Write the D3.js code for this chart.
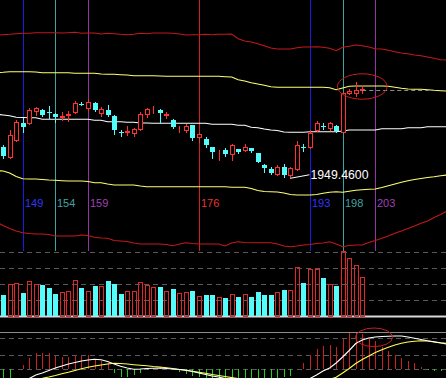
<!DOCTYPE html>
<html>
<head>
<meta charset="utf-8">
<script src="https://cdn.jsdelivr.net/npm/d3@7/dist/d3.min.js"></script>
<style>
  body { margin: 0; background: #000; }
  svg { display: block; }
</style>
</head>
<body>
<script>
// ---- data ----
var firstBar = 146;   // index of first candle / volume bar
var opens = [2012.6, 1992.6, 2026, 2060.6, 2059.4, 2084, 2086, 2082, 2078, 2071.6,
  2076.4, 2081.4, 2098.8, 2090.6, 2099.4, 2079.4, 2086, 2074, 2042, 2041.8,
  2039.4, 2048, 2078, 2085.2, 2086, 2076.6, 2066, 2047.2, 2046, 2056,
  2031.4, 2028, 2011.4, 2003.2, 2006, 1998, 2008, 2006, 2009.4, 1999.4,
  1976, 1967.4, 1958, 1971, 1956, 1967.4, 2012, 2012.6, 2046, 2053.4,
  2049.4, 2054.6, 2042.6, 2119.4, 2120.6, 2126.6];
var highs = [2016, 2046, 2066, 2070, 2090, 2092.6, 2088, 2094, 2080, 2082.6,
  2084.6, 2104.6, 2102.6, 2107.4, 2102, 2092.6, 2096, 2075, 2046, 2054,
  2050, 2081.4, 2089.4, 2094, 2087, 2082.6, 2068, 2054, 2057.4, 2057,
  2040.6, 2032.6, 2013, 2006, 2009.4, 2018, 2009, 2018, 2010, 2000,
  1977, 1971.4, 1976, 1978, 1972, 2025, 2018, 2046, 2064, 2059.4,
  2062.6, 2055.4, 2121, 2129, 2142.6, 2136];
var lows = [1990.6, 1990, 2024, 2042, 2058, 2076, 2074, 2070, 2062.6, 2066,
  2064.6, 2079.4, 2095.4, 2086, 2084, 2074, 2074, 2038, 2034.6, 2036,
  2034.6, 2046, 2071.4, 2079.4, 2059.4, 2069.4, 2050, 2042.6, 2042.6, 2026,
  2022.6, 2012.6, 1990.6, 1986, 1994, 1986, 1999.4, 2004.6, 2002.6, 1982,
  1962.6, 1958, 1956, 1952.6, 1949.46, 1966, 2004.6, 2009.4, 2044, 2048,
  2046, 2043, 2042, 2118, 2114, 2120.6];
var closes = [1994, 2036, 2062.6, 2051.4, 2086, 2090, 2076, 2079.4, 2072.6, 2073.2,
  2078, 2099.4, 2097.2, 2102.6, 2086, 2087.4, 2076, 2046, 2040.4, 2043.4,
  2048, 2078, 2088, 2086.8, 2079.4, 2078.2, 2051.4, 2048.8, 2054.6, 2029.4,
  2037.4, 2016, 2001.4, 2004.8, 1998, 2016, 2002.6, 2012.6, 2004.6, 1982.6,
  1969.4, 1959.4, 1972.6, 1956, 1969, 2016, 2010.4, 2040.6, 2060.6, 2051.8,
  2059.4, 2044, 2119.4, 2124.6, 2126, 2128.2];
var volumes = [410, 630, 656, 450, 696, 630, 610, 556, 430, 470,
  490, 710, 556, 490, 596, 596, 696, 636, 430, 490,
  490, 670, 616, 576, 576, 490, 536, 450, 470, 490,
  390, 410, 410, 376, 356, 430, 376, 430, 376, 470,
  410, 410, 470, 510, 510, 976, 650, 930, 930, 750,
  630, 590, 1290, 1144, 1010, 764];

var bandStart = 145;  // band lines run on past the last candle
var upperRed = [2236.6, 2236.6, 2237.4, 2238.6, 2239.4, 2239.4, 2240.6, 2240.6, 2240.6, 2240.6,
  2240.0, 2240.6, 2241.4, 2239.4, 2240.0, 2240.0, 2238.0, 2239.4, 2238.6, 2237.4,
  2236.6, 2237.4, 2239.4, 2238.6, 2240.0, 2240.0, 2240.0, 2239.4, 2238.0, 2236.0,
  2236.6, 2236.6, 2237.4, 2236.6, 2237.4, 2237.4, 2238.0, 2228.6, 2224.0, 2222.0,
  2218.6, 2214.6, 2210.0, 2208.0, 2208.0, 2208.0, 2210.6, 2212.0, 2212.0, 2212.6,
  2211.4, 2209.4, 2204.6, 2211.4, 2213.4, 2216.0, 2214.6, 2212.0, 2208.6, 2208.0,
  2205.4, 2202.6, 2200.0, 2198.6, 2196.0, 2194.6, 2192.0, 2189.4, 2186.6, 2186.0];
var upperYellow = [2160.6, 2161.4, 2162.6, 2162.6, 2162.6, 2162.6, 2162.0, 2160.6, 2160.6, 2160.6,
  2160.6, 2160.6, 2159.4, 2159.4, 2159.4, 2159.4, 2158.0, 2157.4, 2157.4, 2156.6,
  2156.0, 2154.6, 2154.6, 2154.6, 2154.6, 2154.0, 2153.4, 2153.4, 2153.4, 2153.4,
  2153.4, 2153.4, 2153.4, 2153.4, 2153.4, 2152.6, 2152.0, 2146.6, 2144.0, 2140.6,
  2138.0, 2135.4, 2132.6, 2131.4, 2131.4, 2131.4, 2131.4, 2131.4, 2131.4, 2131.4,
  2131.4, 2130.6, 2126.6, 2130.0, 2133.4, 2134.0, 2134.0, 2134.0, 2134.0, 2134.0,
  2133.4, 2131.4, 2129.4, 2128.0, 2127.4, 2127.4, 2126.6, 2125.4, 2124.6, 2124.0];
var midWhite = [2077.4, 2076.0, 2074.6, 2071.4, 2071.0, 2070.6, 2070.6, 2067.4, 2067.4, 2067.4,
  2067.4, 2067.4, 2067.4, 2067.4, 2067.4, 2065.4, 2065.4, 2062.6, 2062.6, 2062.6,
  2061.4, 2061.4, 2060.0, 2060.0, 2059.4, 2059.4, 2059.4, 2059.4, 2059.4, 2059.4,
  2059.4, 2059.4, 2059.4, 2057.4, 2057.4, 2057.4, 2057.4, 2055.4, 2055.4, 2051.4,
  2050.6, 2048.0, 2046.0, 2045.0, 2042.0, 2041.4, 2041.4, 2041.4, 2042.6, 2042.6,
  2042.6, 2042.6, 2042.6, 2044.0, 2046.0, 2046.0, 2046.0, 2046.0, 2046.0, 2048.6,
  2048.6, 2048.6, 2048.6, 2050.6, 2050.6, 2050.6, 2052.6, 2052.6, 2052.6, 2052.6];
var lowerYellow = [1964.6, 1964.0, 1960.0, 1953.0, 1948.6, 1948.0, 1948.0, 1947.0, 1946.0, 1945.4,
  1944.6, 1944.0, 1944.0, 1944.0, 1943.0, 1940.6, 1940.6, 1938.0, 1936.0, 1936.0,
  1936.0, 1936.0, 1934.0, 1932.6, 1932.6, 1932.6, 1932.6, 1932.6, 1932.6, 1932.6,
  1932.6, 1932.6, 1932.6, 1932.6, 1932.6, 1932.6, 1931.4, 1931.4, 1931.4, 1929.0,
  1925.0, 1923.0, 1922.6, 1922.0, 1920.0, 1917.0, 1916.0, 1916.0, 1916.0, 1917.0,
  1919.4, 1921.4, 1922.6, 1921.4, 1923.4, 1925.4, 1926.6, 1927.4, 1928.0, 1931.0,
  1934.6, 1938.0, 1941.4, 1944.6, 1947.0, 1949.0, 1951.0, 1952.6, 1954.6, 1956.0];
var lowerRed = [1862, 1855, 1849, 1844, 1840.6, 1839, 1838, 1838, 1837, 1834,
  1834, 1834, 1834, 1836, 1835, 1831.4, 1830, 1829.4, 1825, 1824,
  1823, 1820, 1818, 1818, 1818, 1818, 1817, 1814.6, 1818, 1820.6,
  1819, 1818, 1818, 1818, 1818, 1814, 1820, 1822.6, 1821, 1820.6,
  1820.6, 1820.6, 1820.6, 1818, 1814, 1812.6, 1814, 1816, 1817, 1819,
  1820, 1822.6, 1818, 1812.6, 1815, 1816, 1816, 1821, 1825, 1829.4,
  1834, 1839.4, 1844, 1849, 1854, 1859.4, 1864, 1871, 1877, 1884];

var macdStart = 146;
var macdHist = [-6, -5, 0, 2.0, 5.35, 8.15, 8.15, 8.15, 6.5, 6.15,
  5.85, 7.0, 6.5, 7.0, 4.85, 4.15, 3.15, -2, -4, -3.8,
  -3, -2, -0.6, 0.3, 0.8, 0.8, 0.2, -1.5, -2.5, -3.5,
  -4, -4.5, -4.8, -5, -5, -4.8, -4.8, -4.6, -4.5, -4.6,
  -4.8, -4.6, -4.3, -4.0, -3.5, 0, 2.85, 7.0, 9.85, 11.5,
  12.0, 11.15, 14.85, 17.85, 17.85, 17.5, 15.35, 14.15, 11.15, 9.15,
  7.0, 5.35, 4.15, 2.85, 1.15, -0.5, -0.8, -1.0, -1.0];
var dif = [-9, -7.5, -6, -5.4, -4.75, -3.0, -2.0, -0.75, 0.5, 1.5,
  2.5, 3.25, 4.0, 4.5, 4.85, 4.65, 3.75, 2.5, 1.4, 0.5,
  -0.15, 0, 0.25, 0.4, 0.5, 0.25, 0, -0.25, -0.5, -1.25,
  -2.0, -2.75, -3.5, -4.0, -4.75, -5.5, -6.2, -6.8, -7.3, -7.8,
  -8.3, -8.8, -9.0, -8.8, -8.0, -6.8, -5.6, -4.75, -3.0, -1.0,
  0.5, 3.0, 6.0, 9.25, 12.75, 14.5, 15.5, 16.0, 16.25, 16.4,
  16.5, 16.5, 16.0, 15.35, 14.75, 14.1, 13.6, 13.15, 12.85];
var dea = [-6.8, -6.5, -6.2, -5.8, -5.4, -5.0, -4.6, -4.0, -3.25, -2.4,
  -1.65, -0.75, 0.1, 0.85, 1.5, 2.0, 2.5, 2.85, 2.75, 2.5,
  2.15, 1.85, 1.6, 1.25, 1.0, 0.65, 0.25, -0.25, -0.75, -1.15,
  -1.6, -2.1, -2.75, -3.25, -3.75, -4.3, -4.8, -5.3, -5.7, -6.1,
  -6.5, -6.9, -7.2, -7.5, -7.7, -7.7, -7.6, -7.3, -6.9, -6.3,
  -5.2, -4.15, -2.0, 0.25, 2.75, 4.75, 6.5, 8.25, 9.6, 10.85,
  12.0, 12.9, 13.5, 13.85, 14.1, 14.0, 13.5, 13.0, 12.5];

var markBars = [149, 154, 159, 176, 193, 198, 203];
var volTicks = [320, 640, 960, 1280];
var macdTicks = [0, 7, 15.3];
var lowLabel = "1949.4600";

// ---- layout ----
var width = 446, height = 378;
var mainBottom = 251, volBase = 316, macdTop = 332;

var svg = d3.select("body")
  .append("svg")
  .attr("width", width)
  .attr("height", height);

svg.append("rect").attr("width", width).attr("height", height).attr("fill", "#000");

var xScale = d3.scaleLinear().domain([149, 203]).range([22.7, 375.3]);
var yPrice = d3.scaleLinear().domain([1806, 2306]).range([250, 0]);
var yVol = d3.scaleLinear().domain([0, 1300]).range([315.5, 250.5]);
var yMacd = d3.scaleLinear().domain([0, 18]).range([369, 333]);

var markLine = d3.scaleOrdinal().domain(markBars)
  .range(["#1c1ce0", "#38a4a4", "#9434a4", "#d42020", "#1c1ce0", "#38a4a4", "#9434a4"]);
var markText = d3.scaleOrdinal().domain(markBars)
  .range(["#3434ff", "#40a4a4", "#a040b8", "#e83434", "#3434ff", "#40a4a4", "#a040b8"]);

function px(i) { return Math.round(xScale(i)); }

// candles as objects
var candles = opens.map(function (o, k) {
  return { i: firstBar + k, o: o, h: highs[k], l: lows[k], c: closes[k], v: volumes[k] };
});

// ---- grid lines ----
svg.selectAll("line.vgrid")
  .data(volTicks)
  .enter()
  .append("line")
  .attr("x1", 0).attr("x2", width)
  .attr("y1", function (d) { return Math.round(yVol(d)) + 0.5; })
  .attr("y2", function (d) { return Math.round(yVol(d)) + 0.5; })
  .attr("stroke", "#5a5a5a")
  .attr("stroke-dasharray", "5,4");

svg.selectAll("line.mgrid")
  .data(macdTicks)
  .enter()
  .append("line")
  .attr("x1", 0).attr("x2", width)
  .attr("y1", function (d) { return Math.round(yMacd(d)) + 0.5; })
  .attr("y2", function (d) { return Math.round(yMacd(d)) + 0.5; })
  .attr("stroke", "#5a5a5a")
  .attr("stroke-dasharray", "5,4");

// pane borders
svg.append("line").attr("x1", 0).attr("x2", width).attr("y1", volBase + 0.5).attr("y2", volBase + 0.5)
  .attr("stroke", "#d8d8d8").attr("stroke-width", 2);
svg.append("line").attr("x1", 0).attr("x2", width).attr("y1", macdTop + 0.5).attr("y2", macdTop + 0.5)
  .attr("stroke", "#8c8c8c");

// ---- vertical marker lines + labels ----
svg.selectAll("line.mark")
  .data(markBars)
  .enter()
  .append("line")
  .attr("x1", function (d) { return px(d) + 0.5; })
  .attr("x2", function (d) { return px(d) + 0.5; })
  .attr("y1", 0)
  .attr("y2", mainBottom)
  .attr("stroke", function (d) { return markLine(d); })
  .attr("shape-rendering", "crispEdges");

svg.selectAll("text.mark")
  .data(markBars)
  .enter()
  .append("text")
  .attr("x", function (d) { return px(d) + 2; })
  .attr("y", 206.5)
  .attr("fill", function (d) { return markText(d); })
  .style("font-family", "Liberation Sans, Arial, sans-serif")
  .style("font-size", "11px")
  .text(function (d) { return d; });

// ---- band lines ----
function bandLine(arr, color) {
  var line = d3.line()
    .x(function (d, k) { return xScale(bandStart + k); })
    .y(function (d) { return yPrice(d); });
  svg.append("path")
    .datum(arr)
    .attr("d", line)
    .attr("fill", "none")
    .attr("stroke", color)
    .attr("stroke-width", 1.1);
}
bandLine(upperRed, "#c41818");
bandLine(lowerRed, "#c41818");
bandLine(upperYellow, "#ffff70");
bandLine(lowerYellow, "#ffff70");
bandLine(midWhite, "#ffffff");

// ---- candles ----
var up = function (d) { return d.c >= d.o; };
var RED = "#ff3232", CYAN = "#54fcfc";

svg.selectAll("line.wick")
  .data(candles)
  .enter()
  .append("line")
  .attr("x1", function (d) { return px(d.i) + 0.5; })
  .attr("x2", function (d) { return px(d.i) + 0.5; })
  .attr("y1", function (d) { return Math.round(yPrice(d.h)); })
  .attr("y2", function (d) { return Math.round(yPrice(d.l)) + 1; })
  .attr("stroke", function (d) { return up(d) ? RED : CYAN; })
  .attr("shape-rendering", "crispEdges");

svg.selectAll("rect.body")
  .data(candles)
  .enter()
  .append("rect")
  .attr("x", function (d) { return up(d) ? px(d.i) - 1.5 : px(d.i) - 2; })
  .attr("width", function (d) { return up(d) ? 4 : 5; })
  .attr("y", function (d) {
    var t = Math.round(yPrice(Math.max(d.o, d.c)));
    return up(d) ? t + 0.5 : t;
  })
  .attr("height", function (d) {
    var h = Math.round(yPrice(Math.min(d.o, d.c))) - Math.round(yPrice(Math.max(d.o, d.c)));
    return up(d) ? Math.max(0, h) : Math.max(1, h);
  })
  .attr("fill", function (d) { return up(d) ? "#000" : CYAN; })
  .attr("stroke", function (d) { return up(d) ? RED : "none"; })
  .attr("shape-rendering", "crispEdges");

// lowest low label
var lowest = candles.reduce(function (a, b) { return b.l < a.l ? b : a; });
svg.append("line")
  .attr("x1", xScale(lowest.i)).attr("y1", yPrice(lowest.l))
  .attr("x2", xScale(lowest.i) + 19).attr("y2", yPrice(lowest.l) - 3.5)
  .attr("stroke", "#fff");
svg.append("text")
  .attr("x", xScale(lowest.i) + 20)
  .attr("y", yPrice(lowest.l) + 0.5)
  .attr("fill", "#fff")
  .style("font-family", "Liberation Sans, Arial, sans-serif")
  .style("font-size", "12.3px")
  .text(lowLabel);

// last close dashed guide and ring
var last = candles[candles.length - 1];
svg.append("line")
  .attr("x1", xScale(last.i)).attr("x2", xScale(last.i + 10.2))
  .attr("y1", Math.round(yPrice(last.c)) + 1.5).attr("y2", Math.round(yPrice(last.c)) + 1.5)
  .attr("stroke", "#8c8c8c").attr("stroke-dasharray", "4,3");
svg.append("ellipse")
  .attr("cx", xScale(last.i))
  .attr("cy", yPrice(2133))
  .attr("rx", xScale(last.i + 3.8) - xScale(last.i))
  .attr("ry", yPrice(2133 - 25.4) - yPrice(2133))
  .attr("fill", "none")
  .attr("stroke", "#c81e1e");

// ---- volume ----
svg.selectAll("rect.vol")
  .data(candles)
  .enter()
  .append("rect")
  .attr("x", function (d) { return up(d) ? px(d.i) - 1.5 : px(d.i) - 2; })
  .attr("width", function (d) { return up(d) ? 4 : 5; })
  .attr("y", function (d) { return Math.round(yVol(d.v)) + (up(d) ? 0.5 : 0); })
  .attr("height", function (d) { return Math.round(yVol(0)) - Math.round(yVol(d.v)); })
  .attr("fill", function (d) { return up(d) ? "none" : CYAN; })
  .attr("stroke", function (d) { return up(d) ? "#e02828" : "none"; })
  .attr("shape-rendering", "crispEdges");

// ---- MACD ----
svg.selectAll("line.hist")
  .data(macdHist)
  .enter()
  .append("line")
  .attr("x1", function (d, k) { return px(macdStart + k) + 0.5; })
  .attr("x2", function (d, k) { return px(macdStart + k) + 0.5; })
  .attr("y1", yMacd(0))
  .attr("y2", function (d) { return yMacd(d); })
  .attr("stroke", function (d) { return d >= 0 ? "#d01e1e" : "#1ed21e"; })
  .attr("shape-rendering", "crispEdges");

function macdLine(arr, color) {
  var line = d3.line()
    .x(function (d, k) { return xScale(macdStart + k); })
    .y(function (d) { return yMacd(d); });
  svg.append("path")
    .datum(arr)
    .attr("d", line)
    .attr("fill", "none")
    .attr("stroke", color)
    .attr("stroke-width", 1.1);
}
macdLine(dea, "#ffff50");
macdLine(dif, "#ffffff");

svg.append("ellipse")
  .attr("cx", xScale(202.8))
  .attr("cy", yMacd(15.85))
  .attr("rx", xScale(202.8 + 2.84) - xScale(202.8))
  .attr("ry", yMacd(0) - yMacd(4.65))
  .attr("fill", "none")
  .attr("stroke", "#c81e1e");
</script>
</body>
</html>
